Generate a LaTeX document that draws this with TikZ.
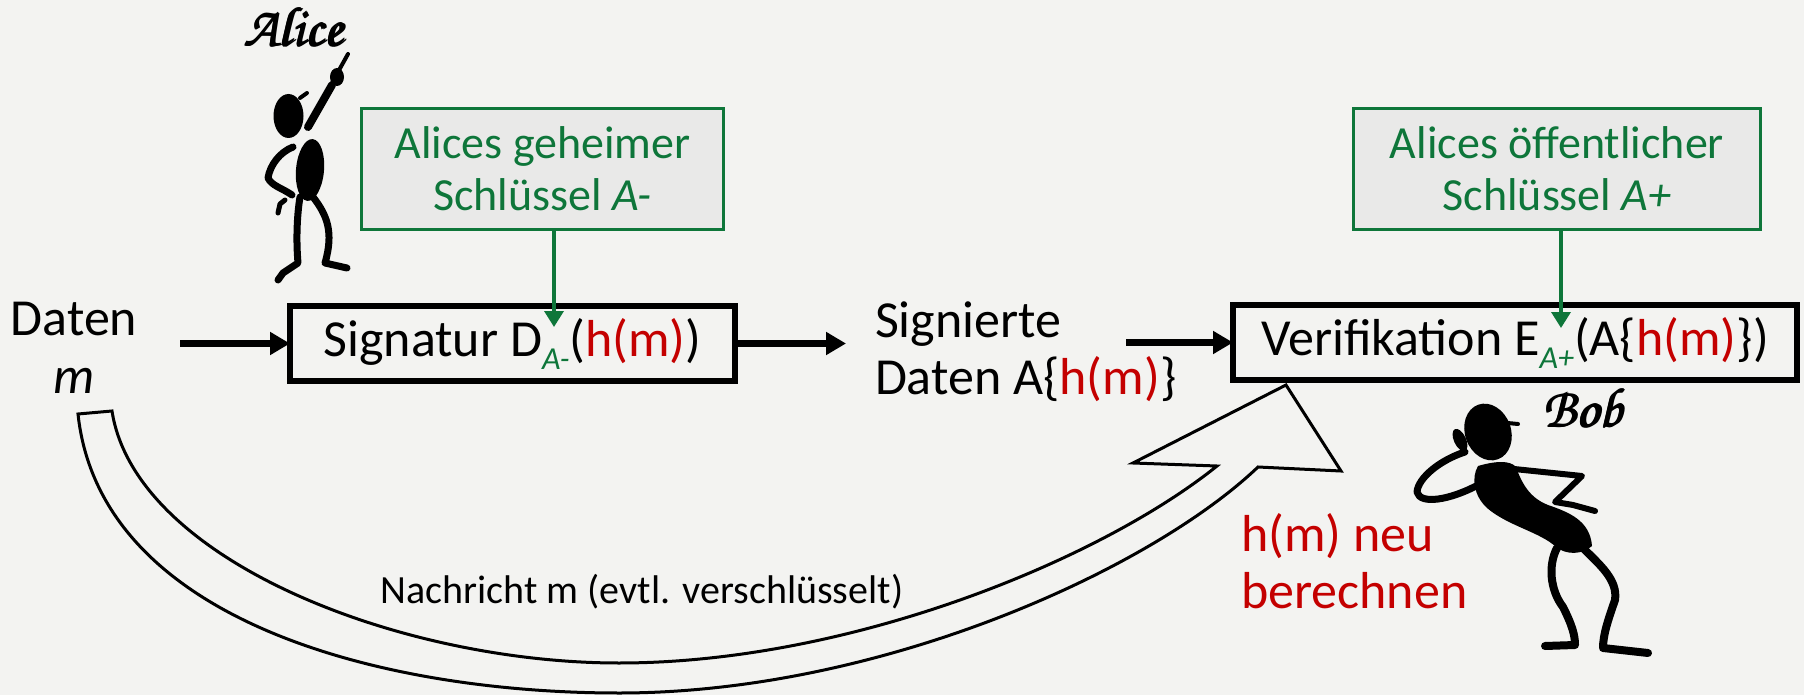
\documentclass[tikz,border=0pt]{standalone}
\usepackage{fontspec}
\setmainfont{Carlito}
\usetikzlibrary{arrows.meta}

\definecolor{bgcol}{RGB}{243,243,241}
\definecolor{keyfill}{RGB}{233,233,232}
\definecolor{keygreen}{RGB}{14,118,58}
\definecolor{hashred}{RGB}{196,0,0}

\newcommand{\hm}{\textcolor{hashred}{h(m)}}
\newcommand{\keyidx}[1]{\raisebox{-6.5pt}{\fontsize{16pt}{16pt}\selectfont\itshape\color{keygreen}#1}}
\newcommand{\handfont}{\fontencoding{OT1}\fontfamily{pzc}\fontseries{mb}\fontshape{it}\fontsize{28pt}{30pt}\selectfont}
% overprint a few times for a heavier pen
\newcommand{\inked}[1]{\makebox[0pt][l]{\hspace{0.8pt}#1}\makebox[0pt][l]{\raisebox{0.5pt}{#1}}#1}

\begin{document}
\begin{tikzpicture}[
    x=0.5pt, y=-0.5pt,
    every node/.style={inner sep=0pt, outer sep=0pt},
    procbox/.style={draw, line width=3pt, minimum height=37.5pt, font=\fontsize{26pt}{30pt}\selectfont},
    keybox/.style={draw=keygreen, line width=1.75pt, fill=keyfill, text=keygreen, align=center,
                   minimum height=60.5pt, font=\fontsize{23pt}{26pt}\selectfont},
    plain/.style={font=\fontsize{26pt}{28.5pt}\selectfont},
    flow/.style={-{Triangle[length=10pt,width=11pt]}, line width=3.25pt},
    keyflow/.style={-{Triangle[length=8pt,width=9.5pt]}, line width=1.75pt, draw=keygreen},
    stick/.style={line width=3.5pt, line cap=round, line join=round},
    who/.style={font=\handfont}
]
  \fill[bgcol] (0,0) rectangle (1804,695);
  \useasboundingbox (0,0) rectangle (1804,695);

  % Keys
  \node[keybox, minimum width=181pt] (secret) at (542.5,169) {Alices geheimer\\Schlüssel \textit{A-}};
  \node[keybox, minimum width=203.5pt] (public) at (1557,169) {Alices öffentlicher\\Schlüssel \textit{A+}};

  % Signing and checking
  \node[plain, align=center, anchor=base] (data) at (74,393) {Daten\\\textit{m}};
  \node[procbox, minimum width=222.5pt] (sig) at (512.5,343.5) {Signatur D\keyidx{A-}(\hm)};
  \node[plain, align=left, anchor=base west] (signed) at (875,394) {Signierte\\Daten A\{\hm\}};
  \node[procbox, minimum width=282pt] (ver) at (1515,342.5) {Verifikation E\keyidx{A+}(A\{\hm\})};
  \node[plain, text=hashred, align=left, anchor=base west] (recalc) at (1241,608) {h(m) neu\\berechnen};
  \node[font=\fontsize{20pt}{24pt}\selectfont, anchor=base] (msg) at (642,603) {Nachricht m (evtl. verschlüsselt)};

  \coordinate (secretin) at (554,327);
  \coordinate (publicin) at (1561,328);

  \draw[flow, shorten <=21.5pt] (data.east |- sig.west) -- (sig.west);
  \draw[flow, shorten >=14.5pt] (sig.east) -- (sig.east -| signed.west);
  \draw[flow] ([xshift=125.5pt]signed.west |- ver.west) -- (ver.west);
  \draw[keyflow] (secret.south -| secretin) -- (secretin);
  \draw[keyflow] (public.south -| publicin) -- (publicin);

  % message sent alongside
  \draw[line width=1.5pt, fill=bgcol] (78,414) -- (112,411)
    .. controls (135,560) and (400,663) .. (619,663)
    .. controls (850,663) and (1100,560) .. (1217,466)
    -- (1133,463) -- (1286,385) -- (1341,471) -- (1258,467)
    .. controls (1150,570) and (880,693) .. (619,693)
    .. controls (380,693) and (100,620) .. (78,414) -- cycle;

  % Alice
  \node[who, anchor=base] (alice) at (293,47) {\inked{Alice}};
  \fill (288.5,116) ellipse [x radius=7.5pt, y radius=11pt];
  \draw[stick, line width=2pt] (300,98) -- (307,93);
  \draw[stick, line width=4pt] (308,127) -- (332,85);
  \fill (337,77) ellipse [x radius=3.5pt, y radius=4.5pt];
  \draw[stick, line width=2pt] (338,72) -- (348,54);
  \fill[rotate around={-5:(310,170)}] (310,170) ellipse [x radius=7pt, y radius=15.5pt];
  \draw[stick] (293,147) .. controls (280,152) and (270,165) .. (268,178)
    .. controls (272,186) and (282,188) .. (292,195);
  \draw[stick, line width=2.5pt] (285,200) -- (280,204) -- (278,213);
  \draw[stick] (300,197) .. controls (297,215) and (296,240) .. (298,263) -- (283,273) -- (278,280);
  \draw[stick] (313,197) .. controls (327,215) and (334,232) .. (325,263) -- (347,268);

  % Bob
  \node[who, anchor=base] (bob) at (1582,427) {\inked{Bob}};
  \fill[rotate around={20:(1488,432)}] (1488,432) ellipse [x radius=11.5pt, y radius=14.5pt];
  \draw[stick, line width=2pt] (1497,422) -- (1518,424);
  \fill[rotate around={25:(1460,440)}] (1460,440) ellipse [x radius=3pt, y radius=6pt];
  \draw[stick] (1465,452) .. controls (1440,460) and (1418,478) .. (1417,492)
    .. controls (1420,505) and (1450,500) .. (1478,485);
  \fill (1478,466) .. controls (1495,461) and (1510,460) .. (1516,467)
    .. controls (1522,484) and (1530,498) .. (1548,505)
    .. controls (1568,512) and (1590,520) .. (1592,546)
    .. controls (1582,555) and (1566,555) .. (1556,547)
    .. controls (1540,532) and (1508,526) .. (1487,508)
    .. controls (1474,496) and (1471,478) .. (1478,466) -- cycle;
  \draw[stick, line width=3pt] (1514,469) -- (1582,476) -- (1555,502) -- (1573,505) -- (1595,511);
  \draw[stick, line width=4pt] (1557,548) .. controls (1548,565) and (1550,590) .. (1563,607)
    .. controls (1572,625) and (1575,635) .. (1575,645) -- (1545,646);
  \draw[stick, line width=4pt] (1583,548) .. controls (1600,565) and (1618,580) .. (1615,600)
    .. controls (1608,620) and (1603,635) .. (1603,648) -- (1648,653);
\end{tikzpicture}
\end{document}
